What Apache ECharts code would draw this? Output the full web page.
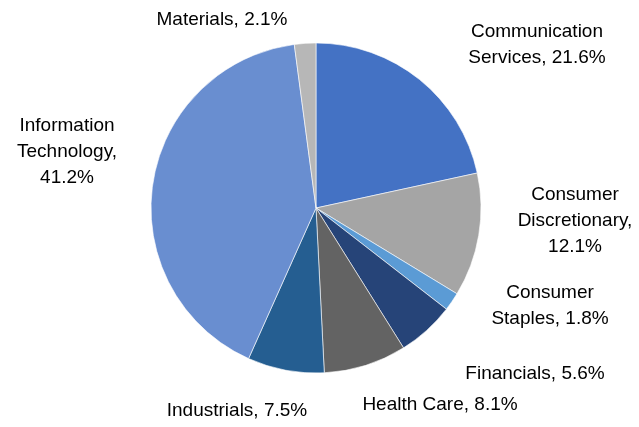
<!DOCTYPE html>
<html>
<head>
<meta charset="utf-8">
<script src="https://cdn.jsdelivr.net/npm/echarts@6/dist/echarts.min.js"></script>
<style>
  html, body { margin: 0; padding: 0; background: #fff; }
  #chart { width: 639px; height: 427px; }
</style>
</head>
<body>
<div id="chart"></div>
<script>
var sectors = ['Communication Services', 'Consumer Discretionary', 'Consumer Staples', 'Financials',
	'Health Care', 'Industrials', 'Information Technology', 'Materials'];
var weights = [21.6, 12.1, 1.8, 5.6, 8.1, 7.5, 41.2, 2.1];
// how each label breaks into lines
var labelLines = [
	['Communication', 'Services, {v}%'],
	['Consumer', 'Discretionary,', '{v}%'],
	['Consumer', 'Staples, {v}%'],
	['Financials, {v}%'],
	['Health Care, {v}%'],
	['Industrials, {v}%'],
	['Information', 'Technology,', '{v}%'],
	['Materials, {v}%']
];
var colors = ['#4472C4', '#A5A5A5', '#5B9BD5', '#264478', '#636363', '#255E91', '#698ED0', '#B7B7B7'];

// label anchor spots (centre of text block)
var labelSpots = [
	[537, 45], [575, 221], [550, 306], [535, 374],
	[440, 405], [237, 411], [67, 152], [222, 20]
];

var chart = echarts.init(document.getElementById('chart'), null, { renderer: 'canvas' });

var data = sectors.map(function (name, i) {
	return { name: name, value: weights[i], itemStyle: { color: colors[i] } };
});

chart.setOption({
	animation: false,
	backgroundColor: '#fff',
	series: [{
		type: 'pie',
		center: [316, 208],
		radius: 165,
		startAngle: 90,
		clockwise: true,
		data: data,
		itemStyle: { borderColor: '#ffffff', borderWidth: 0.6 },
		label: {
			show: true,
			position: 'outside',
			fontFamily: 'Liberation Sans, Arial, sans-serif',
			fontSize: 19,
			lineHeight: 26,
			color: '#000',
			align: 'center',
			overflow: 'none',
			width: 200,
			formatter: function (p) {
				return labelLines[p.dataIndex].join('\n').replace('{v}', weights[p.dataIndex].toFixed(1));
			}
		},
		labelLine: { show: false },
		labelLayout: function (p) {
			var s = labelSpots[p.dataIndex];
			return { x: s[0], y: s[1], align: 'center', verticalAlign: 'middle' };
		},
		emphasis: { disabled: true }
	}]
});
</script>
</body>
</html>
